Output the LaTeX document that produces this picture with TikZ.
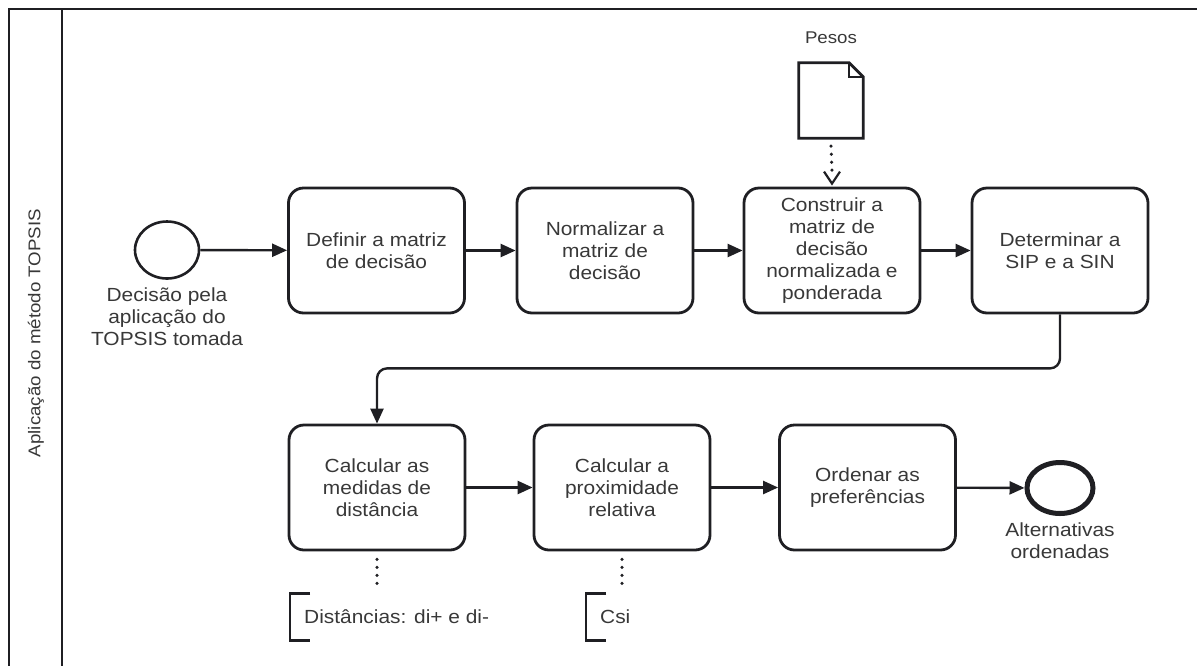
\documentclass[tikz,border=0pt]{standalone}
\usepackage{fontspec}
\setmainfont[FakeStretch=1.1]{Liberation Sans}
\usetikzlibrary{arrows.meta,shapes.geometric}
\definecolor{ink}{HTML}{1F1F23}
\definecolor{txt}{HTML}{383838}
\begin{document}
\begin{tikzpicture}[x=1pt,y=-1pt,
  every node/.style={text=txt,font=\fontsize{19}{22}\selectfont},
  task/.style={draw=ink,line width=2.8pt,rounded corners=15pt,
    minimum width=176pt,minimum height=125pt,align=center,inner sep=0pt},
  startev/.style={draw=ink,line width=2.6pt,ellipse,minimum width=64pt,minimum height=57pt,inner sep=0pt},
  endev/.style={draw=ink,line width=5pt,ellipse,minimum width=66pt,minimum height=51pt,inner sep=0pt},
  evlabel/.style={align=center,inner sep=0pt},
  flow/.style={draw=ink,line width=2.4pt,-{Triangle[length=15pt,width=13pt]}},
  assoc/.style={draw=ink,line width=3.5pt,line cap=round,dash pattern=on 0pt off 8pt},
  annot/.style={anchor=west,minimum height=47pt,inner sep=0pt,text depth=0pt},
  bracket/.style={draw=ink,line width=2.8pt},
  frame/.style={draw=ink,line width=2.2pt}]
\useasboundingbox (0,0) rectangle (1197,665);
\clip (0,0) rectangle (1197,665);

% pool with its single lane
\draw[frame] (9,700) -- (9,9) -- (1250,9);
\draw[frame] (62,9) -- (62,700);
\node[rotate=90,font=\fontsize{17}{20}\selectfont] (lane) at (36,333) {Aplicação do método TOPSIS};

% events
\node[startev] (start) at (167,250) {};
\node[evlabel,anchor=north] (startlbl) at (167,288) {Decisão pela\\aplicação do\\TOPSIS tomada};
\node[endev] (end) at (1060,488) {};
\node[evlabel,anchor=north] (endlbl) at (1060,523) {Alternativas\\ordenadas};

% tasks, first row
\node[task] (t1) at (376.5,250.5) {Definir a matriz\\de decisão};
\node[task] (t2) at (605,250.5) {Normalizar a\\matriz de\\decisão};
\node[task] (t3) at (832,250.5) {Construir a\\matriz de\\decisão\\normalizada e\\ponderada};
\node[task] (t4) at (1060,250.5) {Determinar a\\SIP e a SIN};

% tasks, second row
\node[task] (t5) at (377,487.5) {Calcular as\\medidas de\\distância};
\node[task] (t6) at (622,487.5) {Calcular a\\proximidade\\relativa};
\node[task] (t7) at (867.5,487.5) {Ordenar as\\preferências};

% data object
\node[minimum width=64pt,minimum height=75pt,inner sep=0pt] (pesos) at (831,100.5) {};
\node[anchor=south,font=\fontsize{17}{20}\selectfont] (pesoslbl) at ([yshift=16pt]pesos.north) {Pesos};
\draw[draw=ink,line width=2.8pt,line join=miter]
  (pesos.north west) -- ([xshift=-14pt]pesos.north east) -- ([yshift=-14pt]pesos.north east)
  -- (pesos.south east) -- (pesos.south west) -- cycle;
\draw[draw=ink,line width=2.2pt] ([xshift=-14pt]pesos.north east) |- ([yshift=-14pt]pesos.north east);

% sequence flows
\draw[flow] (start) -- (t1);
\draw[flow] (t1) -- (t2);
\draw[flow] (t2) -- (t3);
\draw[flow] (t3) -- (t4);
\draw[flow,rounded corners=10pt] (t4.south) -- ++(0,54) -| (t5.north);
\draw[flow] (t5) -- (t6);
\draw[flow] (t6) -- (t7);
\draw[flow] (t7) -- (end);

% data association
\draw[assoc] ([yshift=-8pt]pesos.south) -- ([yshift=16pt]t3.north);
\draw[draw=ink,line width=2.2pt,line join=miter]
  ([xshift=-8pt,yshift=15pt]t3.north) -- ([yshift=3pt]t3.north) -- ([xshift=8pt,yshift=15pt]t3.north);

% text annotations
\node[annot] (ann1) at (290,617) {\hspace*{14pt}Distâncias: di+ e di-};
\draw[bracket] ([xshift=20pt]ann1.north west) -- (ann1.north west) -- (ann1.south west) -- ([xshift=20pt]ann1.south west);
\draw[assoc] ([yshift=-8pt]t5.south) -- ([yshift=5pt]t5.south |- ann1.north);

\node[annot] (ann2) at (586,617) {\hspace*{14pt}Csi};
\draw[bracket] ([xshift=20pt]ann2.north west) -- (ann2.north west) -- (ann2.south west) -- ([xshift=20pt]ann2.south west);
\draw[assoc] ([yshift=-8pt]t6.south) -- ([yshift=5pt]t6.south |- ann2.north);
\end{tikzpicture}
\end{document}
